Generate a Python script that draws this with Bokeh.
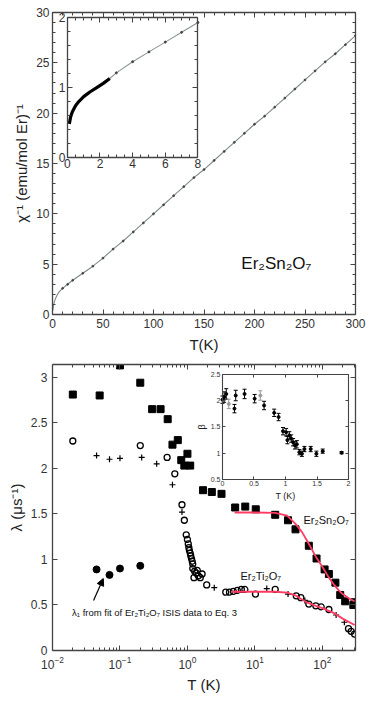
from bokeh.plotting import figure
from bokeh.models import (Range1d, LinearAxis, LogAxis, SingleIntervalTicker, FixedTicker,
                          NumeralTickFormatter, Whisker, TeeHead, Arrow, NormalHead,
                          ColumnDataSource, LinearScale, CustomJSTickFormatter)
from bokeh.layouts import column
from bokeh.core.properties import value
from bokeh.embed import file_html
from bokeh.resources import INLINE

FONT = "Liberation Sans"

# ---------------- top panel data (inverse susceptibility) ----------------
chi_T = [0.3, 1, 2, 3, 5, 7, 10, 15, 20, 30, 40, 50, 60, 70, 80, 90, 100, 110, 120, 130,
         140, 150, 160, 170, 180, 190, 200, 210, 220, 230, 240, 250, 260, 270, 280, 290, 300]
chi_inv = [0.4, 0.9, 1.3, 1.6, 2.0, 2.3, 2.6, 3.0, 3.4, 4.1, 4.8, 5.6, 6.5, 7.3, 8.2, 9.1, 10.0,
           10.9, 11.8, 12.7, 13.6, 14.4, 15.3, 16.2, 17.1, 18.0, 18.9, 19.7, 20.6, 21.5, 22.4,
           23.3, 24.2, 25.1, 25.9, 26.8, 27.7]
dot_T = chi_T[6:]
dot_inv = chi_inv[6:]

# inset (low T)
ins_thick_T = [0.12, 0.2, 0.3, 0.5, 0.7, 1.0, 1.4, 1.8, 2.2, 2.6]
ins_thick_v = [0.48, 0.58, 0.65, 0.74, 0.80, 0.87, 0.94, 1.00, 1.06, 1.13]
ins_thin_T = [2.6, 3, 4, 5, 6, 7, 8]
ins_thin_v = [1.13, 1.21, 1.37, 1.51, 1.65, 1.79, 1.93]

# ---------------- bottom panel data (muSR relaxation rate) ----------------
sq_T = [0.02, 0.05, 0.1, 0.2, 0.3, 0.4, 0.51, 0.6, 0.72, 0.81, 0.9, 1.0, 1.1, 1.7, 2.3, 3.2,
        5.1, 7.2, 10.3, 20, 31, 40, 63, 82, 108, 125, 156, 184, 218, 288, 300]
sq_lam = [2.81, 2.80, 3.13, 2.94, 2.65, 2.65, 2.54, 2.26, 2.31, 2.09, 2.03, 2.16, 2.03, 1.76,
          1.74, 1.72, 1.57, 1.58, 1.55, 1.49, 1.43, 1.33, 1.15, 1.01, 0.89, 0.84, 0.745, 0.61,
          0.54, 0.50, 0.53]

oc_T = [0.02, 0.2, 0.5, 0.65, 0.83, 0.9, 0.96, 1.0, 1.03, 1.05, 1.07, 1.1, 1.12, 1.15, 1.18,
        1.2, 1.2, 1.28, 1.35, 1.45, 1.55, 1.4, 1.65, 1.25, 1.93, 3.7, 4.2, 4.8, 5.5, 6.3, 7.1,
        10.2, 20, 41, 48, 63, 80, 96, 125, 244, 267, 300]
oc_lam = [2.30, 2.25, 2.12, 1.94, 1.60, 1.43, 1.27, 1.22, 1.17, 1.13, 1.10, 1.07, 1.04, 1.01,
          0.98, 0.95, 0.90, 0.87, 0.85, 0.82, 0.80, 0.88, 0.84, 0.80, 0.72, 0.64, 0.64, 0.65,
          0.66, 0.67, 0.67, 0.62, 0.67, 0.60, 0.58, 0.51, 0.49, 0.48, 0.45, 0.24, 0.21, 0.18]

cr_T = [0.045, 0.07, 0.1, 0.21, 0.35, 0.6, 0.83, 2.5, 15, 31, 55, 160, 212]
cr_lam = [2.14, 2.10, 2.11, 2.12, 2.05, 1.82, 1.52, 0.69, 0.68, 0.62, 0.55, 0.39, 0.31]

fc_T = [0.045, 0.07, 0.1, 0.2]
fc_lam = [0.89, 0.83, 0.90, 0.93]

fitSn_T = [5, 10, 20, 30, 40, 50, 60, 80, 100, 125, 150, 175, 200, 250, 300]
fitSn_lam = [1.515, 1.515, 1.51, 1.48, 1.39, 1.30, 1.20, 1.03, 0.92, 0.80, 0.72, 0.66, 0.62, 0.57, 0.54]
fitTi_T = [4.5, 10, 20, 30, 40, 50, 60, 80, 100, 150, 200, 300]
fitTi_lam = [0.645, 0.645, 0.645, 0.635, 0.605, 0.56, 0.525, 0.49, 0.465, 0.41, 0.35, 0.28]

# inset: stretching exponent beta
beta_T = [0.0, 0.026, 0.06, 0.19, 0.21, 0.35, 0.51, 0.66, 0.82, 0.89, 0.96, 1.01, 1.03, 1.06,
          1.09, 1.12, 1.15, 1.18, 1.22, 1.26, 1.30, 1.40, 1.49, 1.59, 1.89]
beta = [2.02, 2.07, 2.13, 1.85, 2.10, 2.13, 2.04, 1.91, 1.77, 1.69, 1.42, 1.40, 1.25, 1.34,
        1.28, 1.21, 1.15, 1.17, 1.02, 0.99, 1.08, 1.08, 0.99, 1.04, 1.01]
beta_err = [0.07, 0.10, 0.10, 0.08, 0.10, 0.09, 0.08, 0.08, 0.07, 0.07, 0.07, 0.07, 0.07, 0.07,
            0.07, 0.07, 0.07, 0.07, 0.05, 0.05, 0.05, 0.05, 0.05, 0.04, 0.02]
betaG_T = [0.1, 0.6]
betaG = [1.94, 2.10]
betaG_err = [0.09, 0.09]


def style_axis(ax, size="12px"):
    ax.axis_line_color = "#444"
    ax.axis_line_width = 1.3
    ax.major_tick_in = 5
    ax.major_tick_out = 0
    ax.minor_tick_in = 3
    ax.minor_tick_out = 0
    ax.major_tick_line_color = "#444"
    ax.minor_tick_line_color = "#444"
    ax.major_label_text_font = FONT
    ax.major_label_text_font_size = size
    ax.major_label_text_color = "#333"
    ax.axis_label_text_font = FONT
    ax.axis_label_text_font_style = "normal"
    ax.axis_label_text_color = "#222"


def hide_labels(ax):
    ax.formatter = CustomJSTickFormatter(code="return ''")
    ax.major_label_text_font_size = "0px"
    ax.major_label_standoff = 0


def frac_range(u0, u1, f0, f1):
    k = (u1 - u0) / (f1 - f0)
    s = u0 - f0 * k
    return s, s + k


# ============================ TOP FIGURE ============================
p1 = figure(width=374, height=358, x_range=Range1d(0, 300), y_range=Range1d(0, 30),
            output_backend="svg", toolbar_location=None,
            x_axis_location=None, y_axis_location=None,
            min_border_left=52, min_border_right=16, min_border_top=12, min_border_bottom=44)
p1.xgrid.visible = False
p1.ygrid.visible = False
p1.outline_line_color = None

ax = LinearAxis(ticker=SingleIntervalTicker(interval=50, num_minor_ticks=5), axis_label="T(K)")
style_axis(ax)
ax.major_label_standoff = 4
ax.axis_label_standoff = 5
ax.axis_label_text_font_size = "15px"
p1.add_layout(ax, "below")
ax = LinearAxis(ticker=SingleIntervalTicker(interval=50, num_minor_ticks=5))
style_axis(ax); hide_labels(ax)
p1.add_layout(ax, "above")
ay = LinearAxis(ticker=SingleIntervalTicker(interval=5, num_minor_ticks=5),
                axis_label="χ⁻¹ (emu/mol Er)⁻¹")
style_axis(ay)
ay.major_label_standoff = 3
ay.axis_label_standoff = 3
ay.axis_label_text_font_size = "15px"
p1.add_layout(ay, "left")
ay = LinearAxis(ticker=SingleIntervalTicker(interval=5, num_minor_ticks=5))
style_axis(ay); hide_labels(ay)
p1.add_layout(ay, "right")

p1.line(chi_T, chi_inv, line_color="#7d8a88", line_width=1.1)
p1.scatter(dot_T, dot_inv, size=1.8, color="#444444")
p1.text([187], [5.06], text=["Er₂Sn₂O₇"], text_font=value(FONT), text_font_size="17px",
        text_baseline="middle", text_align="left", text_color="#111")

# inset
p1.extra_x_ranges = {"ix": Range1d(*frac_range(0, 8, 0.049, 0.480))}
p1.extra_y_ranges = {"iy": Range1d(*frac_range(0, 2, 0.520, 0.983))}
ib = LinearAxis(x_range_name="ix", y_range_name="iy", fixed_location=0, bounds=(0, 8),
                ticker=SingleIntervalTicker(interval=2, num_minor_ticks=4))
style_axis(ib, "12px"); ib.major_label_standoff = 2
p1.add_layout(ib, "below")
it = LinearAxis(x_range_name="ix", y_range_name="iy", fixed_location=2, bounds=(0, 8),
                ticker=SingleIntervalTicker(interval=2, num_minor_ticks=4))
style_axis(it); hide_labels(it)
p1.add_layout(it, "above")
il = LinearAxis(x_range_name="ix", y_range_name="iy", fixed_location=0, bounds=(0, 2),
                ticker=SingleIntervalTicker(interval=1, num_minor_ticks=5))
style_axis(il, "12px"); il.major_label_standoff = 2
p1.add_layout(il, "left")
ir = LinearAxis(x_range_name="ix", y_range_name="iy", fixed_location=8, bounds=(0, 2),
                ticker=SingleIntervalTicker(interval=1, num_minor_ticks=5))
style_axis(ir); hide_labels(ir)
p1.add_layout(ir, "right")

p1.line(ins_thin_T, ins_thin_v, x_range_name="ix", y_range_name="iy",
        line_color="#8a9694", line_width=1.1)
p1.scatter(ins_thin_T[1:], ins_thin_v[1:], x_range_name="ix", y_range_name="iy",
           size=2, color="#444444")
p1.line(ins_thick_T, ins_thick_v, x_range_name="ix", y_range_name="iy",
        line_color="black", line_width=3.2)

# ============================ BOTTOM FIGURE ============================
p2 = figure(width=374, height=339, x_axis_type="log", x_range=Range1d(0.01, 310),
            y_range=Range1d(0, 3.14), output_backend="svg", toolbar_location=None,
            x_axis_location=None, y_axis_location=None,
            min_border_left=45, min_border_right=19, min_border_top=6, min_border_bottom=47)
p2.xgrid.visible = False
p2.ygrid.visible = False
p2.outline_line_color = None

decades = [0.01, 0.1, 1, 10, 100]
minors = [m * d for d in decades for m in range(2, 10) if m * d <= 310]

bx = LogAxis(ticker=FixedTicker(ticks=decades, minor_ticks=minors), axis_label="T (K)")
style_axis(bx)
bx.major_label_standoff = 5
bx.axis_label_standoff = 4
bx.axis_label_text_font_size = "15px"
p2.add_layout(bx, "below")
bx = LogAxis(ticker=FixedTicker(ticks=decades, minor_ticks=minors))
style_axis(bx); hide_labels(bx)
p2.add_layout(bx, "above")
by = LinearAxis(ticker=SingleIntervalTicker(interval=0.5, num_minor_ticks=0),
                formatter=NumeralTickFormatter(format="0.[0]"), axis_label="λ (μs⁻¹)")
style_axis(by)
by.major_label_standoff = 5
by.axis_label_standoff = 3
by.axis_label_text_font_size = "15px"
p2.add_layout(by, "left")
by = LinearAxis(ticker=SingleIntervalTicker(interval=0.5, num_minor_ticks=0))
style_axis(by); hide_labels(by)
p2.add_layout(by, "right")

p2.scatter(oc_T, oc_lam, marker="circle", size=6, fill_color=None, line_color="black", line_width=1.3)
p2.scatter(cr_T, cr_lam, marker="cross", size=6, line_color="black", line_width=1.2)
p2.scatter(sq_T, sq_lam, marker="square", size=7, color="black")
p2.scatter(fc_T, fc_lam, marker="circle", size=7, color="black")
p2.line(fitSn_T, fitSn_lam, line_color="#ff3b63", line_width=1.8)
p2.line(fitTi_T, fitTi_lam, line_color="#ff3b63", line_width=1.8)

p2.text([52.5], [1.43], text=["Er₂Sn₂O₇"], text_font=value(FONT), text_font_size="11px",
        text_baseline="middle", text_align="left", text_color="#111")
p2.text([6.1], [0.82], text=["Er₂Ti₂O₇"], text_font=value(FONT), text_font_size="11px",
        text_baseline="middle", text_align="left", text_color="#111")
p2.text([0.0195], [0.42], text=["λ₁ from fit of Er₂Ti₂O₇ ISIS data to Eq. 3"],
        text_font=value(FONT), text_font_size="9.5px", text_baseline="middle",
        text_align="left", text_color="#111")
p2.add_layout(Arrow(end=NormalHead(size=7, fill_color="black", line_color="black"),
                    x_start=0.0406, y_start=0.55, x_end=0.0566, y_end=0.79,
                    line_color="black", line_width=1.2))

# inset
p2.extra_x_ranges = {"ix": Range1d(*frac_range(0, 2, 0.561, 0.977))}
p2.extra_x_scales = {"ix": LinearScale()}
p2.extra_y_ranges = {"iy": Range1d(*frac_range(0.5, 2.5, 0.598, 0.965))}

def inset_axis(loc, side, bounds, show, label=None):
    a = LinearAxis(x_range_name="ix", y_range_name="iy", fixed_location=loc, bounds=bounds,
                   ticker=SingleIntervalTicker(interval=0.5, num_minor_ticks=0),
                   formatter=NumeralTickFormatter(format="0.[0]"))
    style_axis(a, "7px")
    a.major_tick_in = 3
    a.axis_line_width = 1.1
    if show:
        a.major_label_standoff = 2
        if label:
            a.axis_label = label
            a.axis_label_text_font_size = "9px"
            a.axis_label_standoff = 1
    else:
        hide_labels(a)
    p2.add_layout(a, side)

inset_axis(0.5, "below", (0, 2), True, "T (K)")
inset_axis(2.5, "above", (0, 2), False)
inset_axis(0, "left", (0.5, 2.5), True, "β")
inset_axis(2, "right", (0.5, 2.5), False)

src = ColumnDataSource(dict(x=beta_T, lo=[b - e for b, e in zip(beta, beta_err)],
                            hi=[b + e for b, e in zip(beta, beta_err)]))
p2.add_layout(Whisker(source=src, base="x", lower="lo", upper="hi", x_range_name="ix",
                      y_range_name="iy", line_color="black", line_width=1,
                      upper_head=TeeHead(size=4, line_color="black", line_width=1),
                      lower_head=TeeHead(size=4, line_color="black", line_width=1)))
srcG = ColumnDataSource(dict(x=betaG_T, lo=[b - e for b, e in zip(betaG, betaG_err)],
                             hi=[b + e for b, e in zip(betaG, betaG_err)]))
p2.add_layout(Whisker(source=srcG, base="x", lower="lo", upper="hi", x_range_name="ix",
                      y_range_name="iy", line_color="#999999", line_width=1,
                      upper_head=TeeHead(size=4, line_color="#999999", line_width=1),
                      lower_head=TeeHead(size=4, line_color="#999999", line_width=1)))
p2.scatter(beta_T, beta, x_range_name="ix", y_range_name="iy", size=3, color="black")
p2.scatter(betaG_T, betaG, x_range_name="ix", y_range_name="iy", size=3, color="#999999")

layout = column(p1, p2, spacing=0)
open("out.html", "w").write(file_html(layout, INLINE))
